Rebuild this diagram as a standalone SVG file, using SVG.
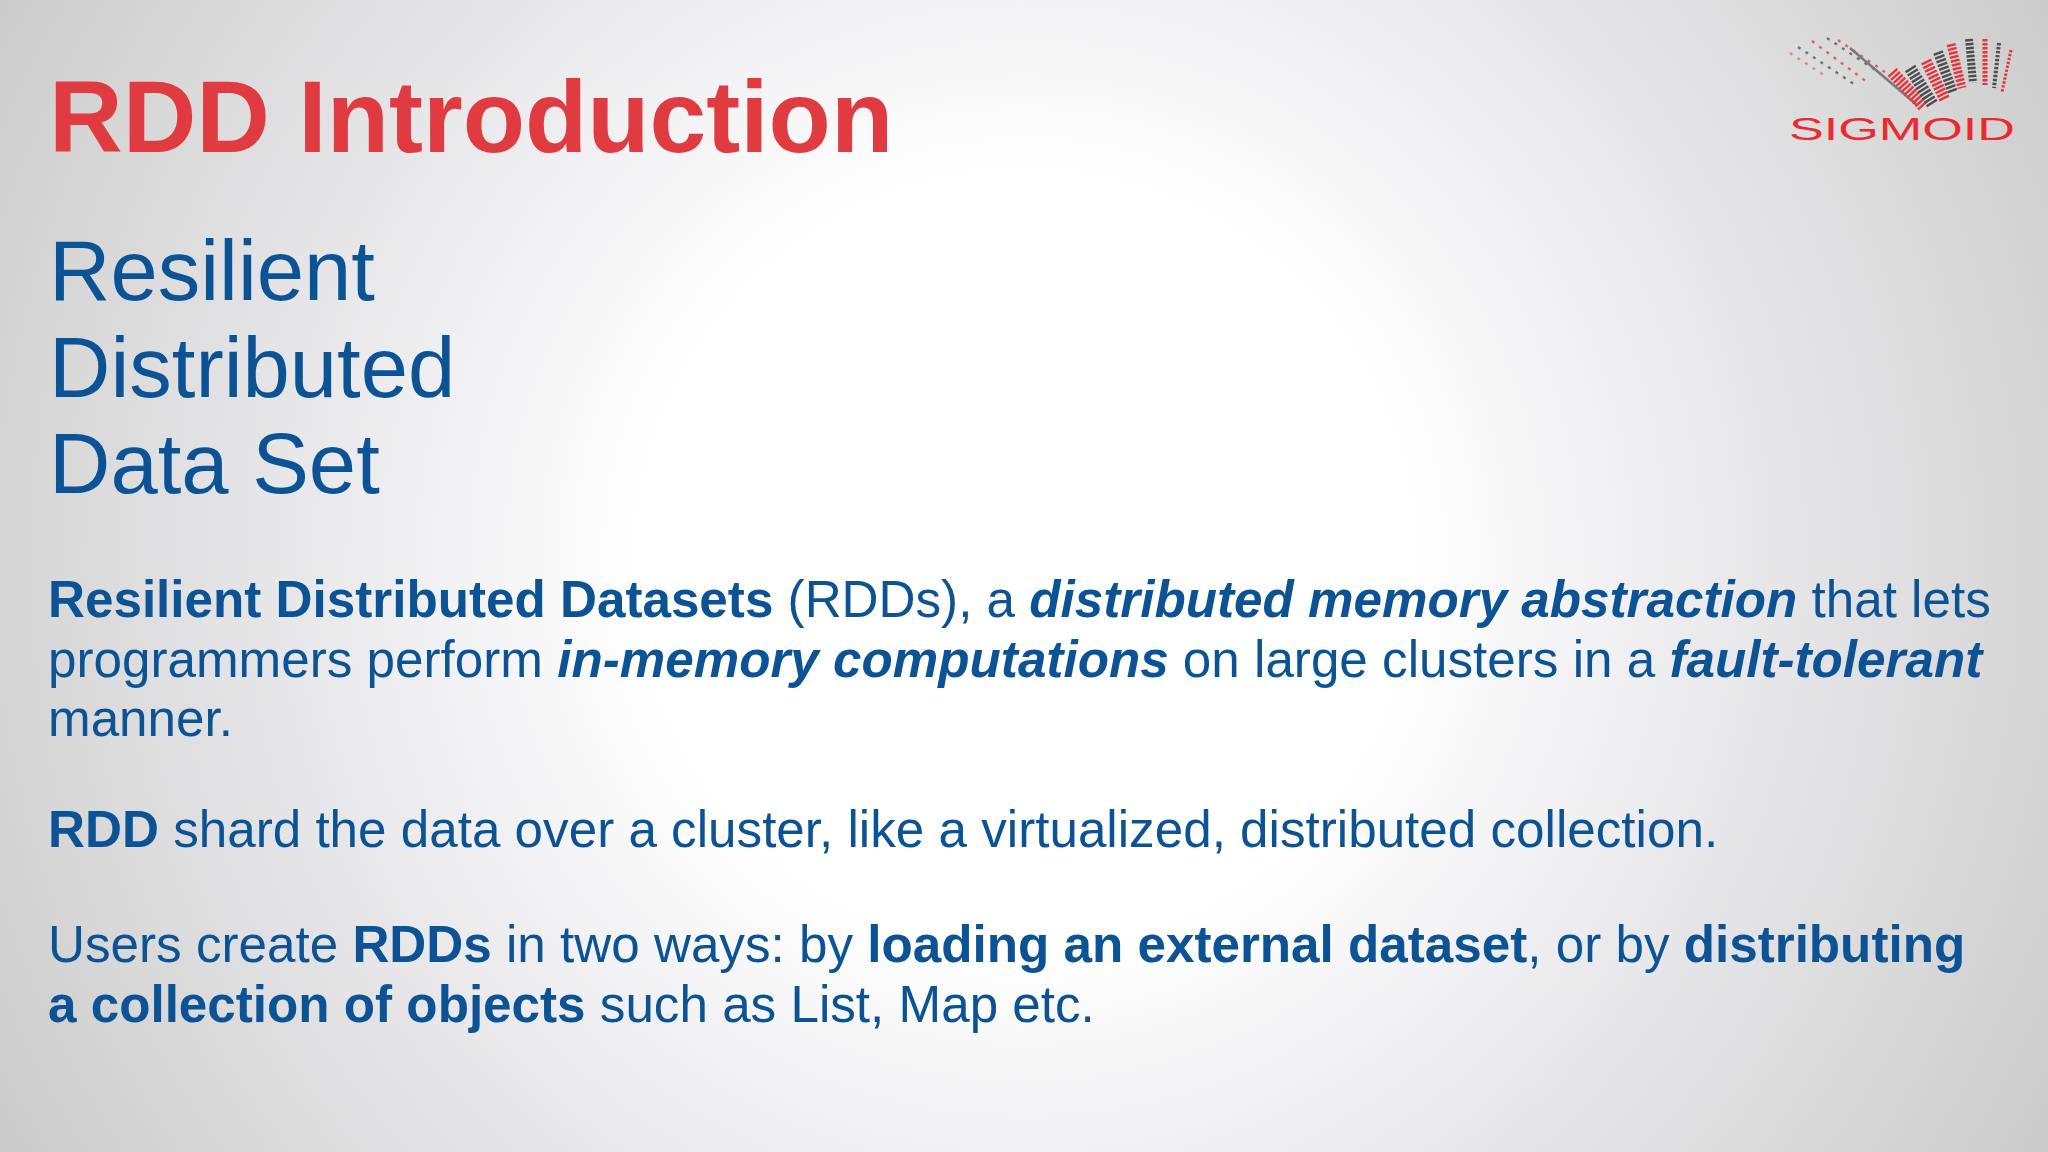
<svg xmlns="http://www.w3.org/2000/svg" width="2048" height="1152" viewBox="0 0 2048 1152">
<defs>
<radialGradient id="bg" gradientUnits="userSpaceOnUse" cx="1025" cy="560" r="1170">
<stop offset="0" stop-color="#ffffff"/><stop offset="0.33" stop-color="#ffffff"/><stop offset="0.48" stop-color="#f3f2f4"/><stop offset="0.65" stop-color="#e6e5e7"/><stop offset="0.88" stop-color="#d5d5d6"/><stop offset="1" stop-color="#cbcbcc"/>
</radialGradient>
</defs>
<style>
text{font-family:"Liberation Sans",Arial,sans-serif}
.title{font-size:102px;font-weight:700;fill:#e03b40}
.sub{font-size:85px;fill:#0b5394}
.body{font-size:51.2px;fill:#0b5394}
.b{font-weight:700}
.bi{font-weight:700;font-style:italic}
.logo{font-size:31px;fill:#ea2a30}
.t{fill:none;stroke-dasharray:2.4 1.6}
.r{stroke:#e8333a}.k{stroke:#4d4d50}
.d{fill:none;stroke-width:2.4;stroke-dasharray:3 6}
</style>
<rect width="2048" height="1152" fill="url(#bg)"/>
<g id="title"><text class="title" x="49" y="152">RDD Introduction</text></g>
<g id="expansion">
<text class="sub" x="49" y="300">Resilient</text>
<text class="sub" x="49" y="397">Distributed</text>
<text class="sub" x="49" y="493">Data Set</text>
</g>
<g id="para1">
<text class="body" x="48" y="617"><tspan class="b">Resilient Distributed Datasets</tspan> (RDDs), a <tspan class="bi">distributed memory abstraction</tspan> that lets</text>
<text class="body" x="48" y="677">programmers perform <tspan class="bi">in-memory computations</tspan> on large clusters in a <tspan class="bi">fault-tolerant</tspan></text>
<text class="body" x="48" y="736">manner.</text>
</g>
<g id="para2">
<text class="body" x="48" y="847"><tspan class="b">RDD</tspan> shard the data over a cluster, like a virtualized, distributed collection.</text>
</g>
<g id="para3">
<text class="body" x="48" y="962">Users create <tspan class="b">RDDs</tspan> in two ways: by <tspan class="b">loading an external dataset</tspan>, or by <tspan class="b">distributing</tspan></text>
<text class="body" x="48" y="1022"><tspan class="b">a collection of objects</tspan> such as List, Map etc.</text>
</g>
<g id="logo">
<path class="d k" opacity=".75" d="M1827 38L1880 73"/>
<path class="d r" opacity=".75" d="M1812 41L1867 82"/>
<path class="d k" opacity=".75" d="M1798 47L1857 86"/>
<path class="d r" opacity=".5" d="M1790 53L1827 77"/>
<path class="d r" opacity=".75" d="M1838 40L1885 72"/>
<path fill="none" stroke="#77797c" stroke-width="2.5" d="M1850 48L1917 105"/>
<path class="t r" stroke-width="12" d="M1892 72L1924 107"/>
<path class="t k" stroke-width="12" d="M1910 68L1933 105"/>
<path class="t r" stroke-width="11" d="M1926 61L1945 100"/>
<path class="t k" stroke-width="10" d="M1938 52L1953 93"/>
<path class="t r" stroke-width="9" d="M1951 44L1962 88"/>
<path class="t k" stroke-width="8" d="M1969 39L1973 83"/>
<path class="t r" stroke-width="5" d="M1985 39L1985 85"/>
<path class="t k" stroke-width="4" d="M1999 43L1994 88"/>
<path class="t r" stroke-width="3" d="M2011 50L2002 92"/>
<text class="logo" x="1789" y="140" textLength="226" lengthAdjust="spacingAndGlyphs">SIGMOID</text>
</g>
</svg>
